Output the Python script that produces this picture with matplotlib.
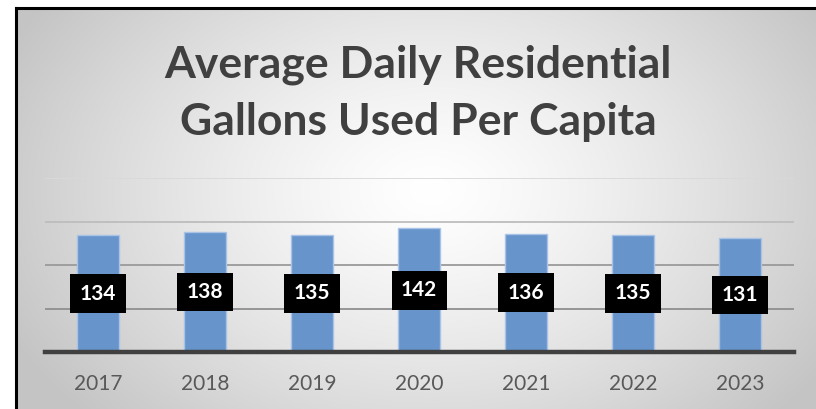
import numpy as np
import matplotlib
matplotlib.use("Agg")
import matplotlib.pyplot as plt
from matplotlib.lines import Line2D

years = ["2017", "2018", "2019", "2020", "2021", "2022", "2023"]
gallons = [134, 138, 135, 142, 136, 135, 131]
title = "Average Daily Residential\nGallons Used Per Capita"

W, H = 816, 409
fig = plt.figure(figsize=(W / 100, H / 100), dpi=100)
fig.patch.set_facecolor("white")

# background radial gradient inside border
bx0, by0 = 16, 8  # pixel coords of border corner (top-left)
bg = fig.add_axes([bx0 / W, 0, 1 - bx0 / W, 1 - by0 / H])
bg.set_axis_off()
yy, xx = np.mgrid[by0:H, bx0:W]
cx, cy, rx, ry = 430, 190, 470, 330
t = np.sqrt(((xx - cx) / rx) ** 2 + ((yy - cy) / ry) ** 2)
t = np.clip(t, 0, 1)
v = 1.0 - (1.0 - 0.77) * t ** 1.3
img = np.dstack([v, v, v])
bg.imshow(img, aspect="auto", extent=[0, 1, 0, 1], origin="upper")
bg.set_xlim(0, 1)
bg.set_ylim(0, 1)

# border lines
fig.add_artist(Line2D([bx0 / W, 1], [1 - by0 / H, 1 - by0 / H], color="black", lw=2.2, transform=fig.transFigure))
fig.add_artist(Line2D([bx0 / W, bx0 / W], [0, 1 - by0 / H], color="black", lw=2.2, transform=fig.transFigure))

# plot axes
left, right = 44.5, 793.5
top, bottom = 178, 352
ax = fig.add_axes([left / W, (H - bottom) / H, (right - left) / W, (bottom - top) / H])
ax.set_facecolor("none")
x = np.arange(len(years))
ax.set_xlim(-0.5, len(years) - 0.5)
ax.set_ylim(0, 200)
for val, col in [(50, "#8f8f8f"), (100, "#9a9a9a"), (150, "#bdbdbd"), (200, "#d9d9d9")]:
    ax.axhline(val, color=col, lw=1.3, zorder=0)
ax.bar(x, gallons, width=0.39, color="#6794cb", edgecolor="#a9c3e6", linewidth=1.0, zorder=2)
ax.axhline(0, color="#404040", lw=3.2, zorder=3, clip_on=False)
for xi, val in zip(x, gallons):
    ax.text(xi, val / 2, str(val), ha="center", va="center", color="white",
            fontsize=15, fontweight="bold", family="Lato", zorder=4,
            bbox=dict(boxstyle="square,pad=0.45", facecolor="black", edgecolor="none"))
ax.set_xticks(x)
ax.set_xticklabels(years, fontsize=15, color="#595959", family="Lato")
ax.tick_params(axis="x", length=0, pad=16)
ax.set_yticks([])
for s in ax.spines.values():
    s.set_visible(False)

fig.text(418 / W, 1 - 93 / H, title, ha="center", va="center", fontsize=32,
         fontweight="bold", color="#404040", family="Lato", linespacing=1.5)

fig.savefig("out.png", dpi=100)
